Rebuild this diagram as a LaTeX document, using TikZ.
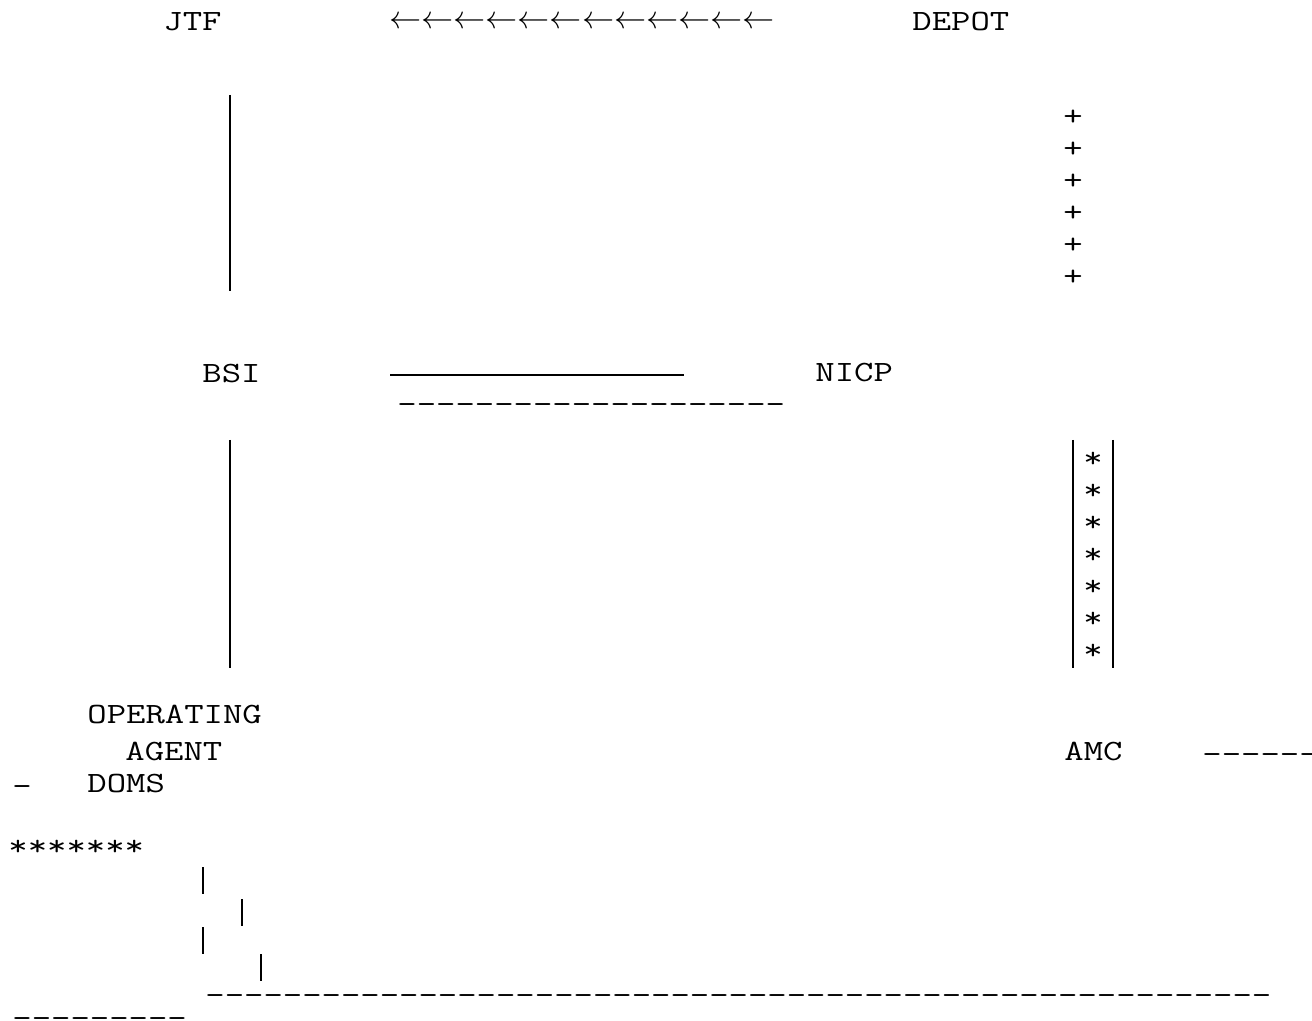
\documentclass[tikz,border=0pt]{standalone}
\usepackage{fontspec}
\newfontfamily\asciifont{Latin Modern Mono}[FakeStretch=1.28,Ligatures=TeXOff]
\usetikzlibrary{positioning}

\newcommand\asciisize{\asciifont\fontsize{14.7}{16}\selectfont}

\begin{document}
\begin{tikzpicture}[x=0.5pt,y=-0.5pt,
  word/.style={font=\asciisize,inner sep=0pt,anchor=base west},
  glyph/.style={font=\asciisize,inner sep=0pt},
  bar/.style={line width=0.8pt},
]
\useasboundingbox (0,0) rectangle (1312,1021);

% --- top row ---
\node[word] (jtf) at (163,31) {JTF};
\node[word] (depot) at (912,31) {DEPOT};
\node[inner sep=0pt,font=\fontsize{17.28}{18}\selectfont] (flow) at (582,23)
  {\scalebox{0.93}{$\leftarrow\leftarrow\leftarrow\leftarrow\leftarrow\leftarrow
    \leftarrow\leftarrow\leftarrow\leftarrow\leftarrow\leftarrow$}};

% JTF down to BSI
\coordinate (jtf-s) at (230,95);
\coordinate (bsi-n) at (230,291);
\draw[bar] (jtf-s) -- (bsi-n);

% DEPOT down to NICP
\foreach \k in {0,...,5}
  \node[glyph] (plus\k) at (1073,118+32*\k) {+};

% --- middle row ---
\node[word] (bsi) at (202,383) {BSI};
\node[word] (nicp) at (815,382) {NICP};
\coordinate (link-w) at (390,375);
\coordinate (link-e) at (684,375);
\draw[bar] (link-w) -- (link-e);
\node[word] (linkdash) at (397,414) {--------------------};

% BSI down to operating agent
\coordinate (bsi-s) at (230,440);
\coordinate (oa-n) at (230,668);
\draw[bar] (bsi-s) -- (oa-n);

% NICP down to AMC
\coordinate (nicp-sw) at (1073,440);
\coordinate (amc-nw) at (1073,668);
\coordinate (nicp-se) at (1113,440);
\coordinate (amc-ne) at (1113,668);
\draw[bar] (nicp-sw) -- (amc-nw);
\draw[bar] (nicp-se) -- (amc-ne);
\foreach \k in {0,...,6}
  \node[glyph] (star\k) at (1093,460+32*\k) {*};

% --- bottom row ---
\node[word] (oa1) at (87,723) {OPERATING};
\node[word] (oa2) at (125,760) {AGENT};
\node[word] (doms) at (87,792) {DOMS};
\node[word] (lead) at (12,795) {-};
\node[word] (amc) at (1064,760) {AMC};
\node[word] (amcdash) at (1202,763) {------};
\node[glyph,anchor=west] (stars) at (8,848) {*******};

% ticks under DOMS
\coordinate (t1a) at (203,867); \coordinate (t1b) at (203,894);
\coordinate (t2a) at (242,899); \coordinate (t2b) at (242,926);
\coordinate (t3a) at (203,927); \coordinate (t3b) at (203,954);
\coordinate (t4a) at (261,954); \coordinate (t4b) at (261,981);
\draw[bar] (t1a) -- (t1b);
\draw[bar] (t2a) -- (t2b);
\draw[bar] (t3a) -- (t3b);
\draw[bar] (t4a) -- (t4b);

\node[word] (basedash) at (205,1004)
  {-------------------------------------------------------};
\node[word] (taildash) at (12,1027) {---------};

\end{tikzpicture}
\end{document}
